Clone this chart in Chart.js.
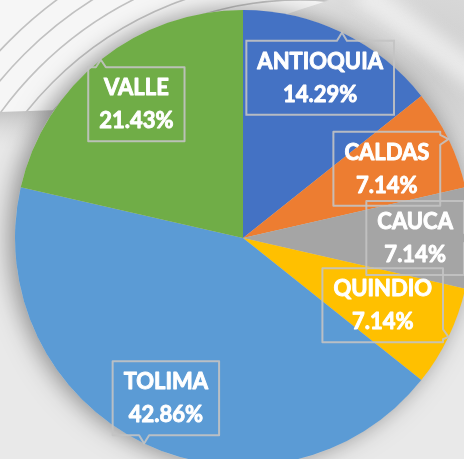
<!DOCTYPE html>
<html>
<head>
<meta charset="utf-8">
<script src="https://cdn.jsdelivr.net/npm/chart.js@4/dist/chart.umd.min.js"></script>
<style>
  html, body { margin: 0; padding: 0; overflow: hidden; background: #e8e8e8; }
  #wrap { position: absolute; left: 0; top: 0; width: 471px; height: 466px; }
</style>
</head>
<body>
<div id="wrap"><canvas id="pie" width="471" height="466"></canvas></div>
<script>
  // data
  var regions = ['ANTIOQUIA', 'CALDAS', 'CAUCA', 'QUINDIO', 'TOLIMA', 'VALLE'];
  var shares = [14.29, 7.14, 7.14, 7.14, 42.86, 21.43];
  var sliceColors = ['#4472C4', '#ED7D31', '#A5A5A5', '#FFC000', '#5B9BD5', '#70AD47'];

  // how far out (fraction of radius) each callout sits
  var labelDist = [0.78, 0.70, 0.755, 0.68, 0.78, 0.75];

  function swirlShape(ctx){
    ctx.beginPath();
    ctx.moveTo(0, 0);
    ctx.lineTo(330, 0);
    ctx.quadraticCurveTo(200, 40, 60, 110);
    ctx.lineTo(0, 112);
    ctx.closePath();
  }

  var backdrop = {
    id: 'backdrop',
    beforeDraw: function(chart){
      var ctx = chart.ctx;
      var w = chart.width, h = chart.height;
      ctx.save();
      ctx.fillStyle = '#e9e9e9';
      ctx.fillRect(0, 0, w, h);

      // darker wash in the upper right
      var g = ctx.createRadialGradient(430, 70, 10, 430, 70, 210);
      g.addColorStop(0, 'rgba(205,205,205,0.95)');
      g.addColorStop(1, 'rgba(205,205,205,0)');
      ctx.fillStyle = g;
      ctx.fillRect(0, 0, w, h);

      // soft light streak top right
      ctx.save();
      ctx.filter = 'blur(8px)';
      ctx.strokeStyle = 'rgba(245,245,245,0.7)';
      ctx.lineWidth = 26;
      ctx.beginPath();
      ctx.moveTo(360, -10);
      ctx.lineTo(480, 80);
      ctx.stroke();
      ctx.restore();

      // white swirl band top left
      ctx.fillStyle = '#f6f6f6';
      swirlShape(ctx);
      ctx.fill();

      // grey band under the swirl
      var g2 = ctx.createLinearGradient(0, 100, 0, 150);
      g2.addColorStop(0, 'rgba(165,165,165,0.85)');
      g2.addColorStop(1, 'rgba(220,220,220,0)');
      ctx.fillStyle = g2;
      ctx.beginPath();
      ctx.moveTo(0, 112);
      ctx.lineTo(60, 110);
      ctx.lineTo(40, 155);
      ctx.lineTo(0, 155);
      ctx.closePath();
      ctx.fill();

      // ripple lines
      ctx.save();
      swirlShape(ctx);
      ctx.clip();
      ctx.strokeStyle = 'rgba(140,140,140,0.5)';
      ctx.lineWidth = 1.6;
      for (var r = 190; r < 430; r += 20){
        ctx.beginPath();
        ctx.arc(300, 330, r, Math.PI, 1.6 * Math.PI);
        ctx.stroke();
      }
      ctx.restore();

      // soft shadow behind the pie
      var meta = chart.getDatasetMeta(0);
      if (meta.data.length){
        var a = meta.data[0];
        ctx.save();
        ctx.shadowColor = 'rgba(0,0,0,0.4)';
        ctx.shadowBlur = 24;
        ctx.shadowOffsetX = -5;
        ctx.fillStyle = '#cccccc';
        ctx.beginPath();
        ctx.arc(a.x, a.y, a.outerRadius, 0, Math.PI * 2);
        ctx.fill();
        ctx.restore();
      }
      ctx.restore();
    }
  };

  function calloutPath(ctx, x0, y0, x1, y1, tx, ty){
    var hw = 5, m = 8, b;
    ctx.beginPath();
    ctx.moveTo(x0, y0);
    if (ty < y0 && tx > x0 - 20 && tx < x1 + 20){
      b = Math.min(Math.max(tx, x0 + m), x1 - m);
      ctx.lineTo(b - hw, y0); ctx.lineTo(tx, ty); ctx.lineTo(b + hw, y0);
    }
    ctx.lineTo(x1, y0);
    if (tx > x1 && !(ty < y0 - 20) && !(ty > y1 + 20)){
      b = Math.min(Math.max(ty, y0 + m), y1 - m);
      ctx.lineTo(x1, b - hw); ctx.lineTo(tx, ty); ctx.lineTo(x1, b + hw);
    }
    ctx.lineTo(x1, y1);
    if (ty > y1 && tx > x0 - 20 && tx < x1 + 20){
      b = Math.min(Math.max(tx, x0 + m), x1 - m);
      ctx.lineTo(b + hw, y1); ctx.lineTo(tx, ty); ctx.lineTo(b - hw, y1);
    }
    ctx.lineTo(x0, y1);
    ctx.closePath();
  }

  var callouts = {
    id: 'callouts',
    afterDatasetsDraw: function(chart){
      var ctx = chart.ctx;
      var meta = chart.getDatasetMeta(0);
      ctx.save();
      ctx.font = 'bold 22px Lato';
      ctx.textAlign = 'center';
      ctx.textBaseline = 'middle';
      meta.data.forEach(function(arc, i){
        var mid = (arc.startAngle + arc.endAngle) / 2;
        var R = arc.outerRadius;
        var cx = arc.x + Math.cos(mid) * R * labelDist[i];
        var cy = arc.y + Math.sin(mid) * R * labelDist[i];
        var tx = arc.x + Math.cos(mid) * R;
        var ty = arc.y + Math.sin(mid) * R;
        var line1 = regions[i];
        var line2 = shares[i].toFixed(2) + '%';
        var tw = Math.max(ctx.measureText(line1).width, ctx.measureText(line2).width);
        var bw = tw + 22, bh = 74;
        calloutPath(ctx, cx - bw / 2, cy - bh / 2, cx + bw / 2, cy + bh / 2, tx, ty);
        ctx.strokeStyle = 'rgba(195,195,195,0.9)';
        ctx.lineWidth = 2;
        ctx.stroke();
        // slight white outline makes the lettering as heavy as the original
        ctx.fillStyle = '#ffffff';
        ctx.strokeStyle = '#ffffff';
        ctx.lineWidth = 0.9;
        ctx.lineJoin = 'round';
        ctx.strokeText(line1, cx, cy - 16);
        ctx.strokeText(line2, cx, cy + 17);
        ctx.fillText(line1, cx, cy - 16);
        ctx.fillText(line2, cx, cy + 17);
      });
      ctx.restore();
    }
  };

  var ctx = document.getElementById('pie').getContext('2d');
  var pieChart = new Chart(ctx, {
    type: 'pie',
    data: {
      labels: regions,
      datasets: [{
        data: shares,
        backgroundColor: sliceColors,
        borderWidth: 0,
        hoverOffset: 0,
        offset: 0
      }]
    },
    options: {
      responsive: false,
      animation: false,
      layout: { padding: { left: 15, top: 10, right: 0, bottom: 0 } },
      plugins: {
        legend: { display: false },
        tooltip: { enabled: false }
      }
    },
    plugins: [backdrop, callouts]
  });
</script>
</body>
</html>
